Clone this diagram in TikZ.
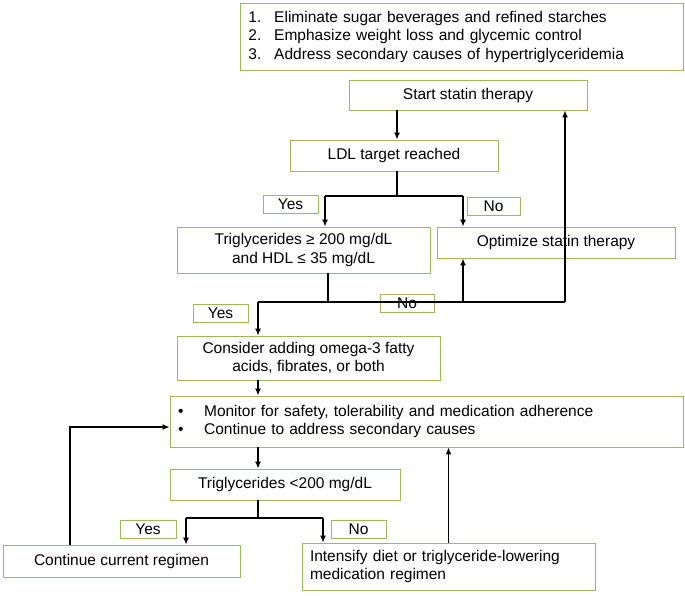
\documentclass[tikz,border=0pt]{standalone}
\usepackage{fontspec}
\setmainfont{Liberation Sans}
\usetikzlibrary{arrows.meta}
\definecolor{boxgreen}{RGB}{155,187,89}
\tikzset{
>={Latex[width=6pt,length=7pt]},
box/.style={draw=boxgreen, thick, minimum height=31pt, align=center, font=\fontsize{15.5}{18.5}\selectfont},
lbox/.style={box, align=left, inner xsep=8pt},
tag/.style={draw=boxgreen, thick, minimum width=55pt, minimum height=18pt, inner sep=0pt, font=\fontsize{15.5}{16}\selectfont},
flow/.style={line width=1.8pt, ->},
line/.style={line width=1.8pt},
}
\begin{document}
\begin{tikzpicture}[x=1pt,y=-1pt]
\useasboundingbox (0,0) rectangle (685,595);
% boxes
\node[lbox, text width=427pt, minimum height=67pt, anchor=north west] (tips) at (240,3)
  {1.\enspace\ Eliminate sugar beverages and refined starches\\
   2.\enspace\ Emphasize weight loss and glycemic control\\
   3.\enspace\ Address secondary causes of hypertriglyceridemia};
\node[box, minimum width=238pt, minimum height=30pt] (start) at (468,95) {Start statin therapy};
\node[box, minimum width=208pt] (ldl) at (394,155.5) {LDL target reached};
\node[box, minimum width=253pt, minimum height=46pt] (tg) at (303.5,250) {Triglycerides ≥ 200 mg/dL\\and HDL ≤ 35 mg/dL};
\node[box, minimum width=238pt] (opt) at (556,242.5) {Optimize statin therapy};
\node[box, minimum width=263pt, minimum height=44pt] (omega) at (308.5,358) {Consider adding omega-3 fatty\\acids, fibrates, or both};
\node[lbox, text width=497pt, minimum height=51pt] (monitor) at (426.5,421.5)
  {•\quad\ Monitor for safety, tolerability and medication adherence\\
   •\quad\ Continue to address secondary causes};
\node[box, minimum width=230pt] (tg200) at (285,484.5) {Triglycerides <200 mg/dL};
\node[box, minimum width=237pt, minimum height=32pt] (cont) at (121.5,561) {Continue current regimen};
\node[lbox, text width=277pt, minimum height=47pt] (intens) at (448.5,566.5)
  {Intensify diet or triglyceride-lowering\\medication regimen};
% labels
\node[tag] (yes1) at (290.5,204.5) {Yes};
\node[tag, minimum width=53pt] (no1) at (493.5,206) {No};
\node[tag, minimum width=54pt] (no2) at (407,303) {No};
\node[tag] (yes2) at (220.5,313) {Yes};
\node[tag, minimum width=56pt] (yes3) at (148,529) {Yes};
\node[tag] (no3) at (358.5,529) {No};
% connectors
\coordinate (s1) at (397,196);
\coordinate (s1l) at (325,196);
\coordinate (s1r) at (463,196);
\coordinate (s2) at (328,302);
\coordinate (s2l) at (258,302);
\coordinate (s2m) at (463,302);
\coordinate (s2r) at (565,302);
\coordinate (s3) at (258,518);
\coordinate (s3l) at (186,518);
\coordinate (s3r) at (323,518);
\coordinate (s4) at (70,427);
\draw[flow] (start.south -| s1) -- (ldl.north -| s1);
\draw[line] (ldl.south -| s1) -- (s1);
\draw[line] (s1l) -- (s1r);
\draw[flow] (s1l) -- (tg.north -| s1l);
\draw[flow] (s1r) -- (opt.north -| s1r);
\draw[line] (tg.south -| s2) -- (s2);
\draw[line] (s2l) -- (s2r);
\draw[flow] (s2m) -- (opt.south -| s2m);
\draw[flow] (s2r) -- (start.south -| s2r);
\draw[flow] (s2l) -- (omega.north -| s2l);
\draw[flow] (omega.south -| s2l) -- (monitor.north -| s2l);
\draw[flow] (monitor.south -| s2l) -- (tg200.north -| s2l);
\draw[line] (tg200.south -| s3) -- (s3);
\draw[line] (s3l) -- (s3r);
\draw[flow] (s3l) -- (cont.north -| s3l);
\draw[flow] (s3r) -- (intens.north -| s3r);
\draw[flow] (cont.north -| s4) -- (s4) -- (s4 -| monitor.west);
\draw[flow] (intens.north) -- (intens.north |- monitor.south);
\end{tikzpicture}
\end{document}
